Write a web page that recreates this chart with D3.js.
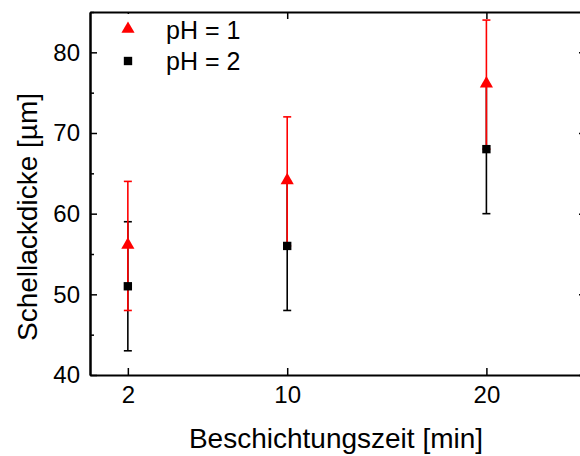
<!DOCTYPE html>
<html>
<head>
<meta charset="utf-8">
<script src="https://d3js.org/d3.v7.min.js"></script>
<style>
  body { margin: 0; background: #fff; }
  svg { font-family: 'Liberation Sans', Arial, sans-serif; }
</style>
</head>
<body>
<svg id="chart" width="580" height="456"></svg>
<script>
// data
var times = [2, 10, 20];
var ph1 = [56, 64, 76];
var ph1Err = [8, 8, 8];
var ph2 = [51, 56, 68];
var ph2Err = [8, 8, 8];
var xTicks = [2, 10, 20];
var yTicks = [40, 50, 60, 70, 80];
var yMinor = [45, 55, 65, 75, 85];

function drawChart() {
  var svg = d3.select("#chart");
  var mLeft = 90, mRight = 586, mTop = 12, mBottom = 375;

  var x = d3.scaleLinear().domain([0.1, 25]).range([mLeft, mRight]);
  var y = d3.scaleLinear().domain([40, 85]).range([mBottom, mTop]);

  // frame + axes (ticks inward)
  var g = svg.append("g");

  g.append("g")
    .attr("transform", "translate(0," + mBottom + ")")
    .call(d3.axisBottom(x).tickValues(xTicks).tickSize(-7).tickPadding(11).tickSizeOuter(0));
  g.append("g")
    .attr("transform", "translate(0," + mTop + ")")
    .call(d3.axisTop(x).tickValues(xTicks).tickSize(-7).tickFormat("").tickSizeOuter(0));
  g.append("g")
    .attr("transform", "translate(" + mLeft + ",0)")
    .call(d3.axisLeft(y).tickValues(yTicks).tickSize(-7).tickPadding(10).tickSizeOuter(0));
  g.append("g")
    .attr("transform", "translate(" + mLeft + ",0)")
    .call(d3.axisLeft(y).tickValues(yMinor).tickSize(-4).tickFormat("").tickSizeOuter(0));
  g.append("g")
    .attr("transform", "translate(" + mRight + ",0)")
    .call(d3.axisRight(y).tickValues(yTicks).tickSize(-7).tickFormat("").tickSizeOuter(0));
  g.append("g")
    .attr("transform", "translate(" + mRight + ",0)")
    .call(d3.axisRight(y).tickValues(yMinor).tickSize(-4).tickFormat("").tickSizeOuter(0));

  g.selectAll(".domain").attr("stroke", "#000").attr("stroke-width", 2);
  g.selectAll(".tick line").attr("stroke", "#000").attr("stroke-width", 1.5);
  g.selectAll(".tick text")
    .style("font-size", "24px")
    .style("font-family", "'Liberation Sans', Arial, sans-serif")
    .attr("fill", "#000");

  // error bars
  function errBars(vals, errs, color) {
    var eb = svg.append("g").attr("stroke", color).attr("stroke-width", 1.6);
    times.forEach(function (t, i) {
      var cx = x(t);
      eb.append("line").attr("x1", cx).attr("x2", cx)
        .attr("y1", y(vals[i] - errs[i])).attr("y2", y(vals[i] + errs[i]));
      [vals[i] - errs[i], vals[i] + errs[i]].forEach(function (v) {
        eb.append("line").attr("x1", cx - 4).attr("x2", cx + 4)
          .attr("y1", y(v)).attr("y2", y(v));
      });
    });
  }
  errBars(ph2, ph2Err, "#000");
  errBars(ph1, ph1Err, "#ff0000");

  var square = d3.symbol().type(d3.symbolSquare).size(70);
  var triangle = d3.symbol().type(d3.symbolTriangle).size(75);

  svg.append("g").selectAll("path").data(ph2).enter().append("path")
    .attr("d", square)
    .attr("fill", "#000")
    .attr("transform", function (d, i) { return "translate(" + x(times[i]) + "," + y(d) + ")"; });
  svg.append("g").selectAll("path").data(ph1).enter().append("path")
    .attr("d", triangle)
    .attr("fill", "#ff0000")
    .attr("transform", function (d, i) { return "translate(" + x(times[i]) + "," + (y(d) - 1) + ")"; });

  // legend
  var lg = svg.append("g");
  lg.append("rect").attr("x", 110).attr("y", 14).attr("width", 150).attr("height", 64).attr("fill", "#fff");
  lg.append("path").attr("d", triangle).attr("fill", "#ff0000").attr("transform", "translate(128,29)");
  lg.append("path").attr("d", square).attr("fill", "#000").attr("transform", "translate(128,61)");
  lg.append("text").attr("x", 166).attr("y", 39).style("font-size", "25px").text("pH = 1");
  lg.append("text").attr("x", 166).attr("y", 70).style("font-size", "25px").text("pH = 2");

  // axis titles
  svg.append("text")
    .attr("x", 336).attr("y", 448)
    .attr("text-anchor", "middle").style("font-size", "28px")
    .text("Beschichtungszeit [min]");
  svg.append("text")
    .attr("transform", "translate(37,217) rotate(-90)")
    .attr("text-anchor", "middle").style("font-size", "28px")
    .text("Schellackdicke [µm]");
}

drawChart();
</script>
</body>
</html>
